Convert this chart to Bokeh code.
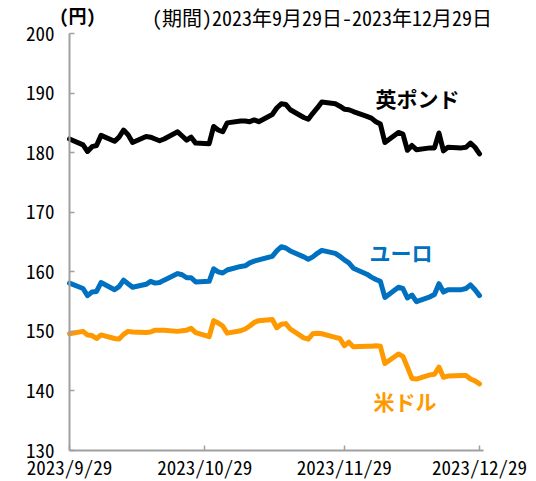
import pandas as pd
from bokeh.plotting import figure
from bokeh.models import Range1d, FixedTicker, ColumnDataSource, Label
from bokeh.embed import file_html
from bokeh.resources import INLINE

# ---- data ----
dates = [
    "2023-09-29",
    "2023-10-02", "2023-10-03", "2023-10-04", "2023-10-05", "2023-10-06",
    "2023-10-09", "2023-10-10", "2023-10-11", "2023-10-12", "2023-10-13",
    "2023-10-16", "2023-10-17", "2023-10-18", "2023-10-19", "2023-10-20",
    "2023-10-23", "2023-10-24", "2023-10-25", "2023-10-26", "2023-10-27",
    "2023-10-30", "2023-10-31",
    "2023-11-01", "2023-11-02", "2023-11-03",
    "2023-11-06", "2023-11-07", "2023-11-08", "2023-11-09", "2023-11-10",
    "2023-11-13", "2023-11-14", "2023-11-15", "2023-11-16", "2023-11-17",
    "2023-11-20", "2023-11-21", "2023-11-22", "2023-11-23", "2023-11-24",
    "2023-11-27", "2023-11-28", "2023-11-29", "2023-11-30",
    "2023-12-01",
    "2023-12-04", "2023-12-05", "2023-12-06", "2023-12-07", "2023-12-08",
    "2023-12-11", "2023-12-12", "2023-12-13", "2023-12-14", "2023-12-15",
    "2023-12-18", "2023-12-19", "2023-12-20", "2023-12-21", "2023-12-22",
    "2023-12-25", "2023-12-26", "2023-12-27", "2023-12-28", "2023-12-29",
]
gbp = [
    182.3,
    181.3, 180.2, 181.0, 181.2, 182.9,
    181.9, 182.6, 183.8, 183.0, 181.7,
    182.7, 182.6, 182.3, 182.0, 182.3,
    183.5, 182.8, 182.1, 182.6, 181.6,
    181.5, 184.4,
    183.8, 183.5, 185.0,
    185.3, 185.3, 185.2, 185.5, 185.2,
    186.4, 187.5, 188.2, 188.1, 187.2,
    185.9, 185.6, 186.6, 187.5, 188.5,
    188.2, 187.8, 187.3, 187.2,
    186.9,
    186.1, 185.8, 185.2, 184.8, 181.7,
    183.4, 183.1, 180.4, 181.2, 180.5,
    180.8, 180.8, 183.3, 180.3, 180.9,
    180.8, 180.9, 181.6, 180.9, 179.8,
]
eur = [
    158.1,
    157.2, 156.0, 156.6, 156.7, 158.2,
    157.0, 157.5, 158.6, 158.0, 157.4,
    157.9, 158.4, 158.1, 158.2, 158.6,
    159.7, 159.5, 159.0, 159.0, 158.3,
    158.4, 160.5,
    160.0, 159.8, 160.3,
    160.9, 161.0, 161.5, 161.8, 162.0,
    162.6, 163.5, 164.2, 164.0, 163.5,
    162.5, 162.1, 162.5, 163.1, 163.6,
    163.1, 162.6, 162.0, 161.5,
    160.6,
    159.6, 159.1, 158.7, 158.4, 155.7,
    157.4, 157.2, 155.6, 156.1, 155.0,
    155.8, 156.2, 158.0, 156.6, 157.0,
    157.0, 157.2, 157.8, 157.0, 156.0,
]
usd = [
    149.6,
    150.0, 149.4, 149.3, 148.8, 149.4,
    148.8, 148.7, 149.5, 150.0, 149.9,
    149.8, 149.9, 150.2, 150.2, 150.2,
    150.0, 150.1, 150.2, 150.5, 149.8,
    149.1, 151.8,
    151.4, 150.9, 149.7,
    150.1, 150.4, 150.9, 151.5, 151.8,
    152.0, 150.6, 151.2, 151.3, 150.4,
    148.9, 148.7, 149.6, 149.7, 149.6,
    149.0, 148.8, 147.6, 148.2,
    147.4,
    147.5, 147.5, 147.6, 147.5, 144.6,
    146.2, 145.8, 144.0, 142.1, 142.0,
    142.7, 142.8, 144.0, 142.3, 142.5,
    142.6, 142.6, 142.0, 141.7, 141.2,
]
series_names = ["英ポンド", "ユーロ", "米ドル"]
tick_dates = ["2023-09-29", "2023-10-29", "2023-11-29", "2023-12-29"]
tick_labels = ["2023/9/29", "2023/10/29", "2023/11/29", "2023/12/29"]
y_ticks = [130, 140, 150, 160, 170, 180, 190, 200]
unit_label = "(円)"
period_label = "(期間)2023年9月29日-2023年12月29日"

DAY = 86400000.0
BASE = pd.Timestamp("2023-09-29").value / 1e6


def ms(s):
    return pd.Timestamp(s).value / 1e6


def at(days):
    return BASE + days * DAY


BLACK = "#000000"
BLUE = "#0070C0"
ORANGE = "#FF9900"
AXIS_GRAY = "#A0A0A0"
TICK_FONT = "Noto Sans Mono CJK JP"
JP_FONT = "Noto Sans CJK JP"

src = ColumnDataSource(dict(date=pd.to_datetime(dates), gbp=gbp, eur=eur, usd=usd))

# frame covers whole canvas; axes are pinned at 2023/9/29 and 130
p = figure(
    width=536, height=481,
    x_axis_type="datetime",
    x_range=Range1d(at(-15.315), at(103.65)),
    y_range=Range1d(124.80, 205.54),
    output_backend="svg", toolbar_location=None,
    min_border=0,
)
p.outline_line_color = None
p.grid.visible = False
p.background_fill_color = "white"
p.border_fill_color = "white"

for col, color in (("gbp", BLACK), ("eur", BLUE), ("usd", ORANGE)):
    p.line("date", col, source=src, line_color=color, line_width=5,
           line_join="round", line_cap="round")

# axes
xa = p.xaxis[0]
xa.fixed_location = 130
xa.bounds = (BASE, at(91.89))
xa.ticker = FixedTicker(ticks=[ms(d) for d in tick_dates])
xa.major_label_overrides = {ms(d): lab for d, lab in zip(tick_dates, tick_labels)}
ya = p.yaxis[0]
ya.fixed_location = BASE
ya.bounds = (130, 200)
ya.ticker = FixedTicker(ticks=y_ticks)
for ax in (xa, ya):
    ax.axis_line_color = AXIS_GRAY
    ax.axis_line_width = 2
    ax.major_tick_line_color = AXIS_GRAY
    ax.major_tick_line_width = 1.5
    ax.major_tick_in = 5
    ax.major_tick_out = 0
    ax.minor_tick_line_color = None
    ax.major_label_text_font = TICK_FONT
    ax.major_label_text_color = "#000000"
xa.major_label_text_font_size = "19px"
ya.major_label_text_font_size = "19px"
xa.major_label_standoff = 2
ya.major_label_standoff = 15

# series labels
labels = [
    (series_names[0], at(67.92), 189.09, BLACK),
    (series_names[1], at(66.59), 163.40, BLUE),
    (series_names[2], at(67.47), 138.39, ORANGE),
]
for txt, x, y, c in labels:
    p.add_layout(Label(x=x, y=y, text=txt, text_color=c, text_font=JP_FONT,
                       text_font_size="21px", text_font_style="bold",
                       text_align="left", text_baseline="middle"))

p.add_layout(Label(x=at(-2.2), y=203.1, text=unit_label,
                   text_font=TICK_FONT, text_font_size="18px", text_font_style="bold",
                   text_align="left", text_baseline="middle", text_color="#000000"))
p.add_layout(Label(x=at(18.3), y=202.7, text=period_label,
                   text_font=TICK_FONT, text_font_size="20px",
                   text_align="left", text_baseline="middle", text_color="#000000"))

open("out.html", "w").write(file_html(p, INLINE))
